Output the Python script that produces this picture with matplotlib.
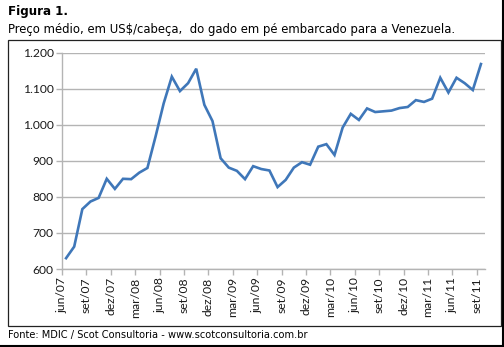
import matplotlib
matplotlib.use("Agg")
import matplotlib.pyplot as plt
from matplotlib.lines import Line2D
from matplotlib.patches import Rectangle

# preço médio mensal (US$/cabeça), jun/07 a set/11
precos = [630, 662, 766, 787, 797, 850, 822, 850, 849, 867,
          880, 967, 1059, 1133, 1093, 1115, 1155, 1055, 1010, 907,
          881, 872, 849, 885, 877, 873, 827, 847, 881, 896,
          889, 939, 946, 916, 992, 1030, 1013, 1045, 1035, 1037,
          1039, 1046, 1049, 1068, 1063, 1072, 1130, 1089, 1130, 1115,
          1096, 1168]
rotulos_x = ["jun/07", "set/07", "dez/07", "mar/08", "jun/08", "set/08",
             "dez/08", "mar/09", "jun/09", "set/09", "dez/09", "mar/10",
             "jun/10", "set/10", "dez/10", "mar/11", "jun/11", "set/11"]
yticks = [600, 700, 800, 900, 1000, 1100, 1200]
ytick_labels = ["600", "700", "800", "900", "1.000", "1.100", "1.200"]

W, H = 504, 347
fig = plt.figure(figsize=(W / 100, H / 100), dpi=100)
ax = fig.add_axes([62 / W, 1 - 269 / H, 423 / W, 216.5 / H])

meses = [i + 0.5 for i in range(len(precos))]
ax.plot(meses, precos, color="#3f77b9", lw=1.9, solid_joinstyle="miter")

ax.set_xlim(0, len(precos))
ax.set_ylim(600, 1200)
ax.set_yticks(yticks)
ax.set_yticklabels(ytick_labels)
ax.set_xticks([3 * k for k in range(len(rotulos_x))])
ax.set_xticklabels(rotulos_x, rotation=90)

ax.grid(axis="y", color="#b4b4b4", lw=1.0)
ax.set_axisbelow(True)
for s in ["top", "right"]:
    ax.spines[s].set_visible(False)
for s in ["left", "bottom"]:
    ax.spines[s].set_color("#b4b4b4")
    ax.spines[s].set_linewidth(1.0)
ax.tick_params(axis="both", color="#b4b4b4", length=4, width=1,
               labelsize=8.7, labelcolor="#1a1a1a", pad=2)
for lab in ax.get_xticklabels() + ax.get_yticklabels():
    lab.set_family("Lato")

# caixa do gráfico e bordas da figura
fig.patches.append(Rectangle((8 / W, 1 - 325.5 / H), 492.5 / W, 285.5 / H,
                             transform=fig.transFigure, fill=False,
                             edgecolor="#222222", lw=0.9))
fig.lines.append(Line2D([502.5 / W, 502.5 / W], [0, 1], transform=fig.transFigure,
                        color="black", lw=1.5))
fig.lines.append(Line2D([0, 1], [1 - 345.5 / H, 1 - 345.5 / H], transform=fig.transFigure,
                        color="black", lw=1.5))

fig.text(8 / W, 1 - 12 / H, "Figura 1.", fontsize=8.6, fontweight="bold",
         va="center", ha="left", family="DejaVu Sans")
fig.text(8 / W, 1 - 29 / H,
         "Preço médio, em US$/cabeça,  do gado em pé embarcado para a Venezuela.",
         fontsize=8.35, va="center", ha="left", family="DejaVu Sans")
fig.text(8 / W, 1 - 335 / H,
         "Fonte: MDIC / Scot Consultoria - www.scotconsultoria.com.br",
         fontsize=7.1, va="center", ha="left", family="DejaVu Sans")

fig.savefig("out.png", dpi=100)
